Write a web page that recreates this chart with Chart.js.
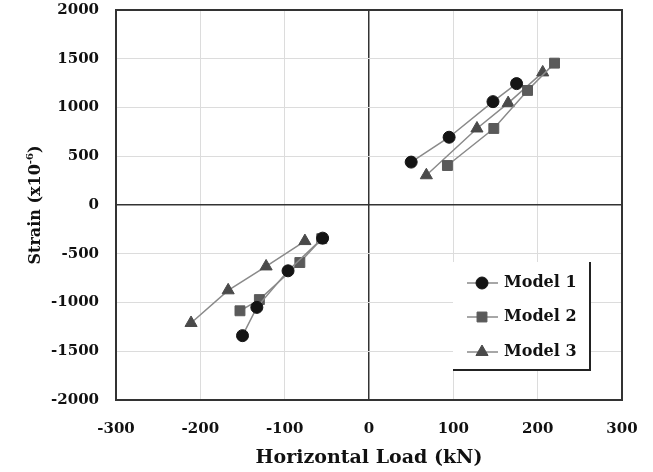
<!DOCTYPE html>
<html>
<head>
<meta charset="utf-8">
<script src="https://cdn.jsdelivr.net/npm/chart.js@4.4.1/dist/chart.umd.min.js"></script>
<style>
  body { margin: 0; background: #fff; }
  #wrap { width: 653px; height: 472px; position: relative; }
</style>
</head>
<body>
<div id="wrap"><canvas id="strainChart"></canvas></div>
<script>
// values (load in kN, strain in 1e-6)
const model1PosLoad = [50, 95, 147, 175];
const model1PosStrain = [440, 695, 1060, 1245];
const model1NegLoad = [-55, -96, -133, -150];
const model1NegStrain = [-340, -675, -1050, -1340];

const model2PosLoad = [93, 148, 188, 220];
const model2PosStrain = [405, 785, 1175, 1455];
const model2NegLoad = [-56, -82, -130, -153];
const model2NegStrain = [-345, -590, -970, -1085];

const model3PosLoad = [68, 128, 165, 206];
const model3PosStrain = [305, 785, 1045, 1360];
const model3NegLoad = [-76, -122, -167, -211];
const model3NegStrain = [-370, -630, -875, -1210];

const modelNames = ['Model 1', 'Model 2', 'Model 3'];
const xTicks = [-300, -200, -100, 0, 100, 200, 300];
const yTicks = [-2000, -1500, -1000, -500, 0, 500, 1000, 1500, 2000];

const FONT = '"DejaVu Serif", "Liberation Serif", serif';
const LINE_COLOR = '#8a8a8a';

const styles = [
    { pointStyle: 'circle', radius: 6, color: '#141414' },
    { pointStyle: 'rect', radius: 7, color: '#5a5a5a' },
    { pointStyle: 'triangle', radius: 7, color: '#4a4a4a' }
];

function pts(xs, ys) {
    return xs.map((x, i) => ({ x: x, y: ys[i] }));
}

function makeSet(model, xs, ys) {
    let s = styles[model];
    return {
        label: modelNames[model],
        data: pts(xs, ys),
        showLine: true,
        borderColor: LINE_COLOR,
        borderWidth: 1.5,
        pointStyle: s.pointStyle,
        pointRadius: s.radius,
        pointHoverRadius: s.radius,
        pointBackgroundColor: s.color,
        pointBorderColor: s.color,
        pointBorderWidth: 1,
        tension: 0
    };
}

const datasets = [
    makeSet(0, model1PosLoad, model1PosStrain),
    makeSet(0, model1NegLoad, model1NegStrain),
    makeSet(1, model2PosLoad, model2PosStrain),
    makeSet(1, model2NegLoad, model2NegStrain),
    makeSet(2, model3PosLoad, model3PosStrain),
    makeSet(2, model3NegLoad, model3NegStrain)
];

// frame, axis titles and the boxed legend
const extras = {
    id: 'extras',
    beforeDatasetsDraw(chart) {
        const { ctx, chartArea: a } = chart;
        ctx.save();
        ctx.strokeStyle = '#333';
        ctx.lineWidth = 2;
        ctx.strokeRect(a.left, a.top, a.right - a.left, a.bottom - a.top);
        ctx.restore();
    },
    afterDraw(chart) {
        const { ctx, chartArea: a } = chart;
        ctx.save();
        ctx.fillStyle = '#111';

        // x title
        ctx.font = 'bold 19px ' + FONT;
        ctx.textAlign = 'center';
        ctx.textBaseline = 'middle';
        ctx.fillText('Horizontal Load (kN)', (a.left + a.right) / 2, 458);

        // y title with superscript
        ctx.save();
        ctx.translate(34, (a.top + a.bottom) / 2);
        ctx.rotate(-Math.PI / 2);
        ctx.font = 'bold 16px ' + FONT;
        let main = 'Strain (x10';
        let w1 = ctx.measureText(main).width;
        ctx.font = 'bold 10px ' + FONT;
        let w2 = ctx.measureText('-6').width;
        ctx.font = 'bold 16px ' + FONT;
        let w3 = ctx.measureText(')').width;
        let x0 = -(w1 + w2 + w3) / 2;
        ctx.textAlign = 'left';
        ctx.textBaseline = 'alphabetic';
        ctx.fillText(main, x0, 6);
        ctx.font = 'bold 10px ' + FONT;
        ctx.fillText('-6', x0 + w1, -1);
        ctx.font = 'bold 16px ' + FONT;
        ctx.fillText(')', x0 + w1 + w2, 6);
        ctx.restore();

        // legend box
        const box = { left: 453, top: 262, right: 590, bottom: 370 };
        ctx.fillStyle = '#fff';
        ctx.fillRect(box.left, box.top, box.right - box.left, box.bottom - box.top);
        ctx.strokeStyle = '#222';
        ctx.lineWidth = 2;
        ctx.beginPath();
        ctx.moveTo(box.right, box.top);
        ctx.lineTo(box.right, box.bottom);
        ctx.lineTo(box.left, box.bottom);
        ctx.stroke();

        const rows = [283, 317, 352];
        modelNames.forEach((name, i) => {
            let y = rows[i];
            ctx.strokeStyle = LINE_COLOR;
            ctx.lineWidth = 1.5;
            ctx.beginPath();
            ctx.moveTo(467, y);
            ctx.lineTo(498, y);
            ctx.stroke();
            ctx.fillStyle = styles[i].color;
            ctx.strokeStyle = styles[i].color;
            ctx.lineWidth = 1;
            Chart.helpers.drawPoint(ctx, {
                pointStyle: styles[i].pointStyle,
                radius: styles[i].radius,
                rotation: 0,
                borderWidth: 1
            }, 482, y);
            ctx.fillStyle = '#111';
            ctx.font = 'bold 16px ' + FONT;
            ctx.textAlign = 'left';
            ctx.textBaseline = 'middle';
            ctx.fillText(name, 504, y);
        });
        ctx.restore();
    }
};

new Chart(document.getElementById('strainChart'), {
    type: 'scatter',
    data: { datasets: datasets },
    options: {
        responsive: true,
        maintainAspectRatio: false,
        animation: false,
        layout: { padding: { top: 10, right: 31, left: 0, bottom: 0 } },
        plugins: {
            legend: { display: false },
            tooltip: { enabled: false }
        },
        scales: {
            x: {
                type: 'linear',
                min: -300,
                max: 300,
                afterBuildTicks: s => { s.ticks = xTicks.map(v => ({ value: v })); },
                afterFit: s => {
                    s.height = 72;
                    s.paddingLeft = 0;
                    s.paddingRight = 0;
                },
                border: { display: false },
                grid: {
                    drawTicks: false,
                    color: c => c.tick && c.tick.value === 0 ? '#333' : '#dcdcdc',
                    lineWidth: c => c.tick && c.tick.value === 0 ? 1.5 : 1
                },
                ticks: {
                    padding: 20,
                    color: '#111',
                    callback: v => String(v),
                    font: { family: FONT, size: 15, weight: 'bold' }
                }
            },
            y: {
                type: 'linear',
                min: -2000,
                max: 2000,
                afterBuildTicks: s => { s.ticks = yTicks.map(v => ({ value: v })); },
                afterFit: s => {
                    s.width = 116;
                    s.paddingTop = 0;
                    s.paddingBottom = 0;
                },
                border: { display: false },
                grid: {
                    drawTicks: false,
                    color: c => c.tick && c.tick.value === 0 ? '#333' : '#dcdcdc',
                    lineWidth: c => c.tick && c.tick.value === 0 ? 1.5 : 1
                },
                ticks: {
                    padding: 17,
                    color: '#111',
                    callback: v => String(v),
                    font: { family: FONT, size: 15, weight: 'bold' }
                }
            }
        }
    },
    plugins: [extras]
});
</script>
</body>
</html>
